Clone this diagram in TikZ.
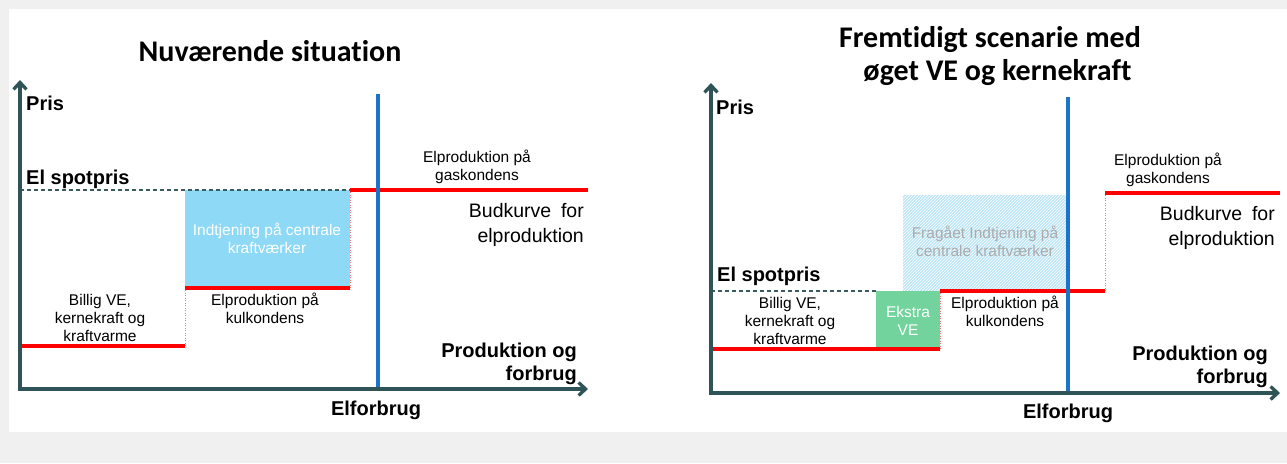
\documentclass[tikz,border=0pt]{standalone}
\usepackage{fontspec}
\setmainfont{Liberation Sans}
\newfontfamily\titlefont[Ligatures=NoCommon]{Carlito}
\usetikzlibrary{arrows.meta,patterns}
\definecolor{axisc}{HTML}{2E5457}
\definecolor{bluel}{HTML}{1C74C8}
\definecolor{cellblue}{HTML}{8ED9F5}
\definecolor{hatchblue}{HTML}{BDE6F7}
\definecolor{greenc}{HTML}{72D39C}
\definecolor{bgc}{HTML}{F0F0F0}
\definecolor{hatchtext}{HTML}{ABABAB}
\definecolor{redc}{HTML}{FF0000}
\newcommand\mlc[1]{\begin{tabular}[t]{@{}c@{}}#1\end{tabular}}
\newcommand\mlr[1]{\begin{tabular}[t]{@{}r@{}}#1\end{tabular}}
\begin{document}
\begin{tikzpicture}[x=1pt,y=-1pt,
  axis/.style={draw=axisc,line width=3.3pt,line join=miter,
    {Straight Barb[length=7pt,width=13pt]}-{Straight Barb[length=7pt,width=13pt]}},
  redline/.style={draw=redc,line width=3.2pt},
  reddot/.style={draw=redc!55,line width=1pt,dash pattern=on 1pt off 1.5pt},
  spotdash/.style={draw=axisc!85!gray,line width=1.4pt,dash pattern=on 4pt off 3pt},
  demand/.style={draw=bluel,line width=3.4pt},
  titletxt/.style={inner sep=0pt,font=\titlefont\bfseries\fontsize{30}{33}\selectfont},
  small/.style={inner sep=0pt,font=\fontsize{15.5}{18}\selectfont},
  medium/.style={inner sep=0pt,font=\fontsize{19.5}{25}\selectfont},
  boldlbl/.style={inner sep=0pt,font=\bfseries\fontsize{20}{23}\selectfont}]
% background
\fill[bgc] (0,0) rectangle (1287,463);
\fill[white] (9,9) rectangle (1287,432);
\useasboundingbox (0,0) rectangle (1287,463);

% ---------------- left panel ----------------
\coordinate (lO) at (20,389);
\coordinate (lY) at (20,80);
\coordinate (lX) at (588,389);
\coordinate (lA) at (20,346);
\coordinate (lB) at (185,346);
\coordinate (lC) at (185,288);
\coordinate (lD) at (350,288);
\coordinate (lE) at (350,190);
\coordinate (lF) at (588,190);
\coordinate (lS) at (20,190);
\coordinate (lDt) at (378,94);
\coordinate (lDb) at (378,389);

\fill[cellblue] (lC) rectangle (lE);
\draw[spotdash] (lS) -- (lE);
\draw[redline] (lA) -- (lB);
\draw[reddot] (lB) -- (lC);
\draw[redline] (lC) -- (lD);
\draw[reddot] (lD) -- (lE);
\draw[redline] (lE) -- (lF);
\draw[demand] (lDt) -- (lDb);
\draw[axis] (lY) -- (lO) -- (lX);

\node[titletxt,anchor=base] (t1) at (270,61) {Nuværende situation};
\node[boldlbl,anchor=base west] (pris1) at (26,110) {Pris};
\node[boldlbl,anchor=base west] (spot1) at (26,184) {El spotpris};
\node[small,anchor=base,text=white] (indt) at (267,235) {\mlc{Indtjening på centrale\\kraftværker}};
\node[small,anchor=base] (billig1) at (100,305) {\mlc{Billig VE,\\kernekraft og\\kraftvarme}};
\node[small,anchor=base] (kul1) at (265,305) {\mlc{Elproduktion på\\kulkondens}};
\node[small,anchor=base] (gas1) at (477,162) {\mlc{Elproduktion på\\gaskondens}};
\node[medium,anchor=base east] (bud1) at (584,217) {\mlr{Budkurve\hspace{0.5em}for\\elproduktion}};
\node[boldlbl,anchor=base east] (prod1) at (577,357) {\mlr{Produktion og\\forbrug}};
\node[boldlbl,anchor=base] (elf1) at (376,415) {Elforbrug};

% ---------------- right panel ----------------
\coordinate (rO) at (711,393);
\coordinate (rY) at (711,83);
\coordinate (rX) at (1280,393);
\coordinate (rA) at (711,349);
\coordinate (rB) at (940,349);
\coordinate (rC) at (940,291);
\coordinate (rD) at (1105,291);
\coordinate (rE) at (1105,193);
\coordinate (rF) at (1280,193);
\coordinate (rS) at (711,291);
\coordinate (rG) at (876,291);
\coordinate (rH1) at (903,195);
\coordinate (rH2) at (1068,291);
\coordinate (rDt) at (1068,97);
\coordinate (rDb) at (1068,393);

\fill[hatchblue] (rH1) rectangle (rH2);
\fill[pattern=north east lines,pattern color=white] (rH1) rectangle (rH2);
\fill[greenc] (rG) rectangle (rB);
\draw[spotdash] (rS) -- (rG);
\draw[redline] (rA) -- (rB);
\draw[reddot] (rB) -- (rC);
\draw[redline] (rC) -- (rD);
\draw[reddot] (rD) -- (rE);
\draw[redline] (rE) -- (rF);
\draw[demand] (rDt) -- (rDb);
\draw[axis] (rY) -- (rO) -- (rX);

\node[titletxt,anchor=base] (t2) at (990,47) {\mlc{Fremtidigt scenarie med\\\hspace{0.5em}øget VE og kernekraft}};
\node[boldlbl,anchor=base west] (pris2) at (716,114) {Pris};
\node[boldlbl,anchor=base west] (spot2) at (717,281) {El spotpris};
\node[small,anchor=base,text=hatchtext] (frag) at (985,238) {\mlc{Fragået Indtjening på\\centrale kraftværker}};
\node[small,anchor=base,text=white] (ekstra) at (908,317) {\mlc{Ekstra\\VE}};
\node[small,anchor=base] (billig2) at (790,308) {\mlc{Billig VE,\\kernekraft og\\kraftvarme}};
\node[small,anchor=base] (kul2) at (1005,308) {\mlc{Elproduktion på\\kulkondens}};
\node[small,anchor=base] (gas2) at (1168,165) {\mlc{Elproduktion på\\gaskondens}};
\node[medium,anchor=base east] (bud2) at (1275,220) {\mlr{Budkurve\hspace{0.5em}for\\elproduktion}};
\node[boldlbl,anchor=base east] (prod2) at (1268,360) {\mlr{Produktion og\\forbrug}};
\node[boldlbl,anchor=base] (elf2) at (1068,418) {Elforbrug};
\end{tikzpicture}
\end{document}
